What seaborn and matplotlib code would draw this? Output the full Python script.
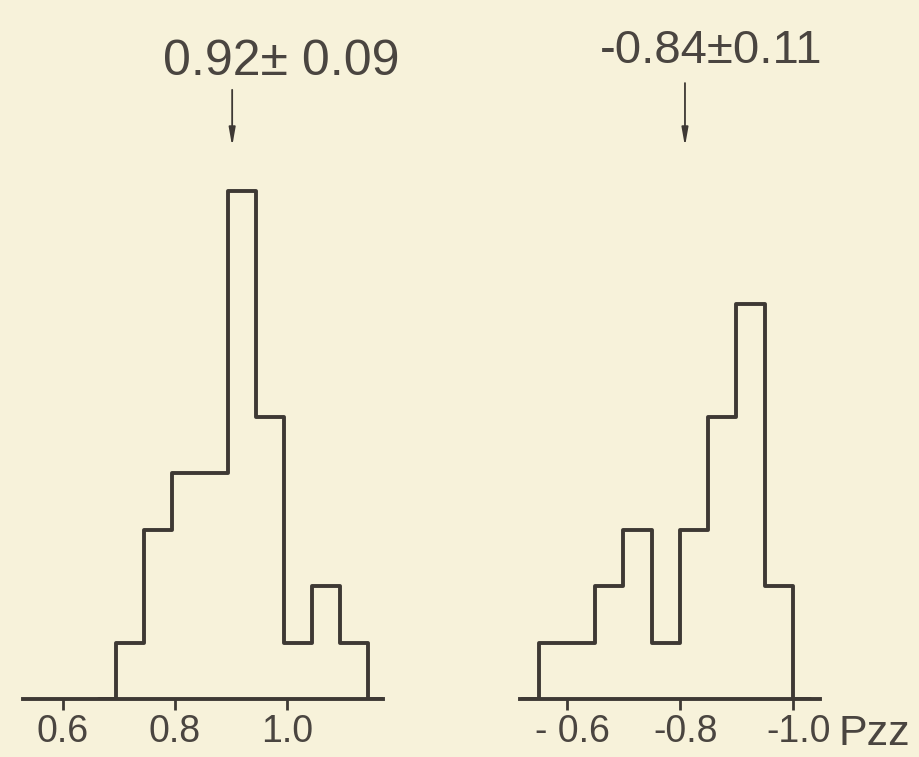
import numpy as np
import pandas as pd
import matplotlib
matplotlib.use("Agg")
import matplotlib.pyplot as plt
import matplotlib.transforms as mtransforms
import seaborn as sns

# ── Données ─────────────────────────────────────────────────────────────────
left_edges  = [0.695, 0.745, 0.795, 0.845, 0.895, 0.945, 0.995, 1.045, 1.095, 1.145]
left_counts = [1, 3, 4, 4, 9, 5, 1, 2, 1]

right_edges  = [-1.00, -0.95, -0.90, -0.85, -0.80, -0.75, -0.70, -0.65, -0.55]
right_counts = [2, 7, 5, 3, 1, 3, 2, 1]

left_ticks  = [0.6, 0.8, 1.0]
left_tick_labels = ["0.6", "0.8", "1.0"]
right_ticks = [-0.6, -0.8, -1.0]
right_tick_labels = ["- 0.6", "-0.8", "-1.0"]

left_label  = "0.92± 0.09"
right_label = "-0.84±0.11"
left_arrow_x  = 0.902
right_arrow_x = -0.809

# ── Style ───────────────────────────────────────────────────────────────────
PAPER = "#F7F2DA"
INK   = "#3E3934"
TXT   = "#4A4540"
LW    = 2.8

sns.set_theme(style="white")
plt.rcParams["font.family"] = ["Liberation Sans", "DejaVu Sans"]

W, H = 919, 757
fig = plt.figure(figsize=(W / 100, H / 100), dpi=100, facecolor=PAPER)

COUNT_PX = 56.4
BASE_PX  = 58           # ligne de base, en pixels depuis le bas
ytop = (H - BASE_PX) / COUNT_PX

def make_axes(x0, x1):
    ax = fig.add_axes([x0 / W, BASE_PX / H, (x1 - x0) / W, (H - BASE_PX) / H])
    ax.set_facecolor("none")
    for s in ["top", "left", "right"]:
        ax.spines[s].set_visible(False)
    ax.spines["bottom"].set_color(INK)
    ax.spines["bottom"].set_linewidth(LW)
    ax.set_yticks([])
    ax.tick_params(axis="x", direction="out", length=8, width=2, color=INK,
                   pad=3, labelsize=27, labelcolor=TXT, bottom=True)
    return ax

def draw_hist(ax, edges, counts, lim):
    # une case vide de chaque côté pour que le contour redescende à zéro
    pad = 0.03
    edges = [edges[0] - pad] + list(edges) + [edges[-1] + pad]
    counts = [0] + list(counts) + [0]
    centers = [(a + b) / 2 for a, b in zip(edges[:-1], edges[1:])]
    df = pd.DataFrame({"x": centers, "n": counts})
    sns.histplot(data=df, x="x", weights="n", bins=edges, element="step",
                 fill=False, color=INK, linewidth=LW, ax=ax)
    ax.set_xlim(*lim)
    ax.set_ylim(0, ytop)
    ax.set_xlabel("")
    ax.set_ylabel("")

arrow_style = dict(arrowstyle="-|>,head_length=0.9,head_width=0.16",
                   color=INK, lw=1.3)

# ── Panneau gauche ──────────────────────────────────────────────────────────
ax1 = make_axes(23, 383)
draw_hist(ax1, left_edges, left_counts, (0.529, 1.171))
ax1.set_xticks(left_ticks)
ax1.set_xticklabels(left_tick_labels)
ax1.annotate("", xy=(left_arrow_x, 9.75), xytext=(left_arrow_x, 10.85),
             arrowprops=arrow_style)
ax1.text(0.99, 11.06, left_label, ha="center", va="baseline",
         fontsize=36, color=TXT)

# ── Panneau droit (axe inversé) ─────────────────────────────────────────────
ax2 = make_axes(520, 820)
draw_hist(ax2, right_edges, right_counts, (-0.517, -1.048))
ax2.set_xticks(right_ticks)
ax2.set_xticklabels(right_tick_labels)
shift = mtransforms.ScaledTranslation(6 / 100, 0, fig.dpi_scale_trans)
for lab in ax2.get_xticklabels():
    lab.set_transform(lab.get_transform() + shift)
ax2.annotate("", xy=(right_arrow_x, 9.75), xytext=(right_arrow_x, 10.97),
             arrowprops=arrow_style)
ax2.text(-0.855, 11.28, right_label, ha="center", va="baseline",
         fontsize=34, color=TXT)

fig.text(838 / W, 12 / H, "Pzz", ha="left", va="baseline", fontsize=31, color=TXT)

fig.savefig("out.png", dpi=100, facecolor=PAPER)
